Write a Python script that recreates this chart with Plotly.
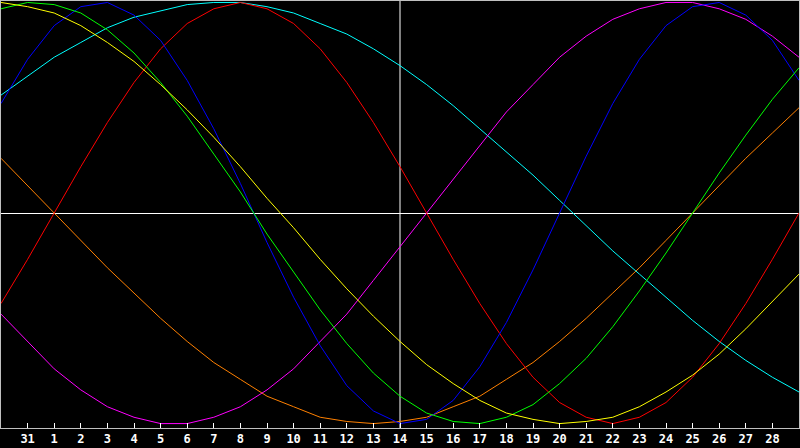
import plotly.graph_objects as go

# Day index: -1 = 30th, 0 = 31st, 1..29 = days 1..29 of the next month
day_index = [-1, 0, 1, 2, 3, 4, 5, 6, 7, 8, 9, 10, 11, 12, 13, 14, 15, 16, 17, 18,
             19, 20, 21, 22, 23, 24, 25, 26, 27, 28, 29]
tick_index = [0, 1, 2, 3, 4, 5, 6, 7, 8, 9, 10, 11, 12, 13, 14, 15, 16, 17, 18, 19,
              20, 21, 22, 23, 24, 25, 26, 27, 28]
tick_labels = ["31", "1", "2", "3", "4", "5", "6", "7", "8", "9", "10", "11", "12", "13",
               "14", "15", "16", "17", "18", "19", "20", "21", "22", "23", "24", "25",
               "26", "27", "28"]
today_index = 14

red = [-43, -22, 0, 22, 43, 62, 78, 90, 97, 100, 97, 90, 78, 62, 43, 22, 0, -22, -43,
       -62, -78, -90, -97, -100, -97, -90, -78, -62, -43, -22, 0]
blue = [52, 73, 89, 98, 100, 94, 82, 63, 40, 14, -14, -40, -63, -82, -94, -100, -98,
        -89, -73, -52, -27, 0, 27, 52, 73, 89, 98, 100, 94, 82, 63]
green = [97, 100, 99, 95, 87, 76, 62, 46, 28, 10, -10, -28, -46, -62, -76, -87, -95,
         -99, -100, -97, -91, -81, -69, -54, -37, -19, 0, 19, 37, 54, 69]
yellow = [100, 98, 95, 89, 81, 72, 61, 49, 36, 22, 7, -7, -22, -36, -49, -61, -72, -81,
          -89, -95, -98, -100, -99, -97, -92, -85, -77, -67, -55, -42, -29]
cyan = [56, 65, 74, 81, 88, 93, 96, 99, 100, 100, 98, 95, 90, 85, 78, 70, 61, 51, 40,
        29, 18, 6, -6, -18, -29, -40, -51, -61, -70, -78, -85]
magenta = [-48, -61, -74, -84, -92, -97, -100, -100, -97, -92, -84, -74, -61, -48, -32,
           -16, 0, 16, 32, 48, 61, 74, 84, 92, 97, 100, 100, 97, 92, 84, 74]
orange = [26, 13, 0, -13, -26, -38, -50, -61, -71, -79, -87, -92, -97, -99, -100, -99,
          -97, -92, -87, -79, -71, -61, -50, -38, -26, -13, 0, 13, 26, 38, 50]

series = [
    ("orange", orange, "#ff8000"),
    ("cyan", cyan, "#00ffff"),
    ("magenta", magenta, "#ff00ff"),
    ("red", red, "#ff0000"),
    ("blue", blue, "#0000ff"),
    ("green", green, "#00ff00"),
    ("yellow", yellow, "#ffff00"),
]

fig = go.Figure()
for name, vals, col in series:
    fig.add_trace(go.Scatter(x=day_index, y=vals, mode="lines", name=name,
                             line=dict(color=col, width=1), hoverinfo="skip"))

fig.add_shape(type="line", x0=today_index, x1=today_index, y0=0, y1=1,
              xref="x", yref="paper", line=dict(color="white", width=1), layer="below")

fig.update_layout(
    width=800, height=448,
    paper_bgcolor="black", plot_bgcolor="black",
    margin=dict(l=1, r=1, t=1, b=20, pad=0),
    showlegend=False,
    xaxis=dict(range=[-1, 29], tickmode="array", tickvals=tick_index, ticktext=tick_labels,
               ticks="inside", ticklen=5, tickcolor="white", tickwidth=1,
               showgrid=False, zeroline=False,
               showline=True, linecolor="#c0c0c0", linewidth=1, mirror=True,
               tickfont=dict(family="DejaVu Sans Mono", size=12, color="white", weight="bold")),
    yaxis=dict(range=[-102.1, 100.7], showticklabels=False, ticks="",
               showgrid=False, zeroline=True, zerolinecolor="white", zerolinewidth=1,
               showline=True, linecolor="#c0c0c0", linewidth=1, mirror=True),
)

fig.write_html(
    "out.html",
    config={"displayModeBar": False},
    post_script="document.body.style.margin='0';document.body.style.overflow='hidden';"
                "document.body.style.background='black';",
)
